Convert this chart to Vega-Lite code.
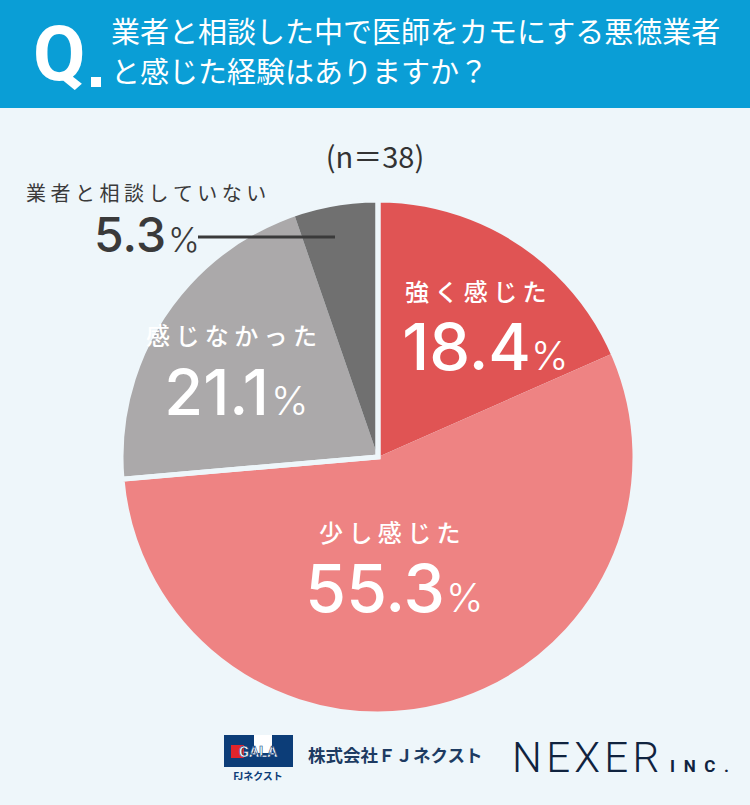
{
  "$schema": "https://vega.github.io/schema/vega-lite/v6.json",
  "width": 750,
  "height": 805,
  "autosize": {"type": "fit", "contains": "padding"},
  "padding": 0,
  "background": "#EEF6FA",
  "config": {"view": {"stroke": null}},
  "datasets": {
    "answers": [
      {"idx": 1, "answer": "強く感じた", "value": 18.4},
      {"idx": 2, "answer": "少し感じた", "value": 55.3},
      {"idx": 3, "answer": "感じなかった", "value": 21.1},
      {"idx": 4, "answer": "業者と相談していない", "value": 5.3}
    ],
    "groups": [
      {"idx": 1, "group": "感じた", "value": 73.7},
      {"idx": 2, "group": "その他", "value": 26.4}
    ],
    "blank": [{}]
  },
  "layer": [
    {
      "data": {"name": "blank"},
      "mark": {"type": "rect", "x": 0, "x2": 750, "y": 0, "y2": 108, "color": "#0A9ED6"},
      "encoding": {}
    },
    {
      "data": {"name": "blank"},
      "mark": {"type": "text", "text": "Q", "x": 33, "y": 80, "align": "left", "baseline": "alphabetic", "font": "Roboto", "fontSize": 76, "fontWeight": "bold", "color": "#FFFFFF"},
      "encoding": {}
    },
    {
      "data": {"name": "blank"},
      "mark": {"type": "rect", "x": 91, "x2": 101, "y": 77, "y2": 87, "color": "#FFFFFF"},
      "encoding": {}
    },
    {
      "data": {"name": "blank"},
      "mark": {"type": "text", "text": "業者と相談した中で医師をカモにする悪徳業者", "x": 111, "y": 34, "align": "left", "baseline": "middle", "font": "Noto Sans CJK JP", "fontSize": 29, "fontWeight": 400, "color": "#FFFFFF"},
      "encoding": {}
    },
    {
      "data": {"name": "blank"},
      "mark": {"type": "text", "text": "と感じた経験はありますか？", "x": 111, "y": 74, "align": "left", "baseline": "middle", "font": "Noto Sans CJK JP", "fontSize": 29, "fontWeight": 400, "color": "#FFFFFF"},
      "encoding": {}
    },
    {
      "data": {"name": "blank"},
      "mark": {"type": "text", "text": "(n＝38)", "x": 375, "y": 159, "align": "center", "baseline": "middle", "font": "Noto Sans CJK JP", "fontSize": 29, "color": "#333333"},
      "encoding": {}
    },
    {
      "data": {"name": "answers"},
      "mark": {"type": "arc", "x": 378, "y": 457, "outerRadius": 257},
      "encoding": {
        "theta": {"field": "value", "type": "quantitative", "stack": true},
        "order": {"field": "idx", "type": "quantitative"},
        "color": {
          "field": "answer",
          "type": "nominal",
          "scale": {
            "domain": ["強く感じた", "少し感じた", "感じなかった", "業者と相談していない"],
            "range": ["#E05454", "#EE8383", "#ABA9AA", "#707070"]
          },
          "legend": null
        }
      }
    },
    {
      "data": {"name": "groups"},
      "mark": {"type": "arc", "x": 378, "y": 457, "outerRadius": 257, "fillOpacity": 0, "stroke": "#EEF6FA", "strokeWidth": 5},
      "encoding": {
        "theta": {"field": "value", "type": "quantitative", "stack": true},
        "order": {"field": "idx", "type": "quantitative"}
      }
    },
    {
      "data": {"name": "blank"},
      "mark": {"type": "text", "text": "強 く 感 じ た", "x": 405, "y": 294, "align": "left", "baseline": "middle", "font": "Noto Sans CJK JP", "fontSize": 24, "fontWeight": 500, "color": "#FFFFFF"},
      "encoding": {}
    },
    {
      "data": {"name": "answers"},
      "transform": [{"filter": "datum.idx == 1"}],
      "mark": {"type": "text", "x": 531, "y": 370, "align": "right", "baseline": "alphabetic", "font": "Inter", "fontSize": 65, "fontWeight": 500, "color": "#FFFFFF"},
      "encoding": {"text": {"field": "value", "type": "quantitative", "format": ".1f"}}
    },
    {
      "data": {"name": "blank"},
      "mark": {"type": "text", "text": "%", "x": 531, "y": 370, "align": "left", "baseline": "alphabetic", "font": "Inter", "fontSize": 40, "fontWeight": 300, "color": "#FFFFFF"},
      "encoding": {}
    },
    {
      "data": {"name": "blank"},
      "mark": {"type": "text", "text": "少 し 感 じ た", "x": 319, "y": 535, "align": "left", "baseline": "middle", "font": "Noto Sans CJK JP", "fontSize": 24, "fontWeight": 500, "color": "#FFFFFF"},
      "encoding": {}
    },
    {
      "data": {"name": "answers"},
      "transform": [{"filter": "datum.idx == 2"}],
      "mark": {"type": "text", "x": 445, "y": 612, "align": "right", "baseline": "alphabetic", "font": "Inter", "fontSize": 66, "fontWeight": 500, "color": "#FFFFFF"},
      "encoding": {"text": {"field": "value", "type": "quantitative", "format": ".1f"}}
    },
    {
      "data": {"name": "blank"},
      "mark": {"type": "text", "text": "%", "x": 446, "y": 612, "align": "left", "baseline": "alphabetic", "font": "Inter", "fontSize": 40, "fontWeight": 300, "color": "#FFFFFF"},
      "encoding": {}
    },
    {
      "data": {"name": "blank"},
      "mark": {"type": "text", "text": "感 じ な か っ た", "x": 146, "y": 338, "align": "left", "baseline": "middle", "font": "Noto Sans CJK JP", "fontSize": 24, "fontWeight": 500, "color": "#FFFFFF"},
      "encoding": {}
    },
    {
      "data": {"name": "answers"},
      "transform": [{"filter": "datum.idx == 3"}],
      "mark": {"type": "text", "x": 269, "y": 415, "align": "right", "baseline": "alphabetic", "font": "Inter", "fontSize": 63, "fontWeight": 500, "color": "#FFFFFF"},
      "encoding": {"text": {"field": "value", "type": "quantitative", "format": ".1f"}}
    },
    {
      "data": {"name": "blank"},
      "mark": {"type": "text", "text": "%", "x": 271, "y": 415, "align": "left", "baseline": "alphabetic", "font": "Inter", "fontSize": 40, "fontWeight": 300, "color": "#FFFFFF"},
      "encoding": {}
    },
    {
      "data": {"name": "blank"},
      "mark": {"type": "text", "text": "業 者 と 相 談 し て い な い", "x": 26, "y": 195, "align": "left", "baseline": "middle", "font": "Noto Sans CJK JP", "fontSize": 20, "color": "#3A3A3A"},
      "encoding": {}
    },
    {
      "data": {"name": "answers"},
      "transform": [{"filter": "datum.idx == 4"}],
      "mark": {"type": "text", "x": 166, "y": 252, "align": "right", "baseline": "alphabetic", "font": "Inter", "fontSize": 48, "fontWeight": 500, "color": "#3A3A3A"},
      "encoding": {"text": {"field": "value", "type": "quantitative", "format": ".1f"}}
    },
    {
      "data": {"name": "blank"},
      "mark": {"type": "text", "text": "%", "x": 168, "y": 252, "align": "left", "baseline": "alphabetic", "font": "Inter", "fontSize": 34, "fontWeight": 300, "color": "#3A3A3A"},
      "encoding": {}
    },
    {
      "data": {"name": "blank"},
      "mark": {"type": "rule", "color": "#3A3A3A", "strokeWidth": 3},
      "encoding": {"x": {"value": 198}, "x2": {"value": 335}, "y": {"value": 237}}
    },
    {
      "data": {"name": "blank"},
      "mark": {"type": "rect", "x": 224, "x2": 293, "y": 735, "y2": 767, "color": "#0C3D78"},
      "encoding": {}
    },
    {
      "data": {"name": "blank"},
      "mark": {"type": "rect", "x": 254, "x2": 272, "y": 735, "y2": 753, "color": "#FFFFFF"},
      "encoding": {}
    },
    {
      "data": {"name": "blank"},
      "mark": {"type": "rect", "x": 231, "x2": 244, "y": 745, "y2": 758, "color": "#E0252B"},
      "encoding": {}
    },
    {
      "data": {"name": "blank"},
      "mark": {"type": "text", "text": "GALA", "x": 258, "y": 752, "align": "center", "baseline": "middle", "font": "Roboto", "fontSize": 15, "fontWeight": "bold", "color": "#FFFFFF", "stroke": "#0C3D78", "strokeWidth": 0.6},
      "encoding": {}
    },
    {
      "data": {"name": "blank"},
      "mark": {"type": "text", "text": "FJネクスト", "x": 258, "y": 777, "align": "center", "baseline": "middle", "font": "Noto Sans CJK JP", "fontSize": 10, "fontWeight": "bold", "color": "#0C3D78"},
      "encoding": {}
    },
    {
      "data": {"name": "blank"},
      "mark": {"type": "text", "text": "株式会社ＦＪネクスト", "x": 308, "y": 757, "align": "left", "baseline": "middle", "font": "Noto Sans CJK JP", "fontSize": 17.5, "fontWeight": "bold", "color": "#1D3B62"},
      "encoding": {}
    },
    {
      "data": {"name": "blank"},
      "mark": {"type": "text", "text": "N\u200aE\u200aX\u200aE\u200aR", "x": 512, "y": 772, "align": "left", "baseline": "alphabetic", "font": "Roboto", "fontSize": 42, "fontWeight": 300, "color": "#10233F"},
      "encoding": {}
    },
    {
      "data": {"name": "blank"},
      "mark": {"type": "text", "text": "I\u2002N\u2002C\u2002.", "x": 670, "y": 772, "align": "left", "baseline": "alphabetic", "font": "Roboto", "fontSize": 17, "fontWeight": "bold", "color": "#10233F"},
      "encoding": {}
    }
  ]
}
